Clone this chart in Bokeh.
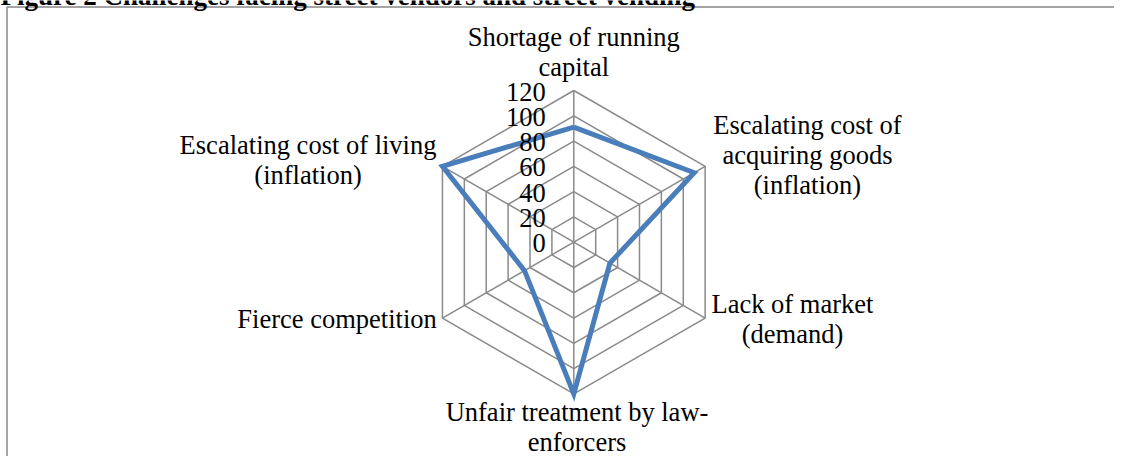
import numpy as np
from bokeh.plotting import figure
from bokeh.models import Range1d, ColumnDataSource
from bokeh.core.properties import value
from bokeh.embed import file_html
from bokeh.resources import INLINE

# ---- data ----
categories = [
    "Shortage of running\ncapital",
    "Escalating cost of\nacquiring goods\n(inflation)",
    "Lack of market\n(demand)",
    "Unfair treatment by law-\nenforcers",
    "Fierce competition",
    "Escalating cost of living\n(inflation)",
]
values = [91, 110, 33, 120, 45, 120]
ticks = [0, 20, 40, 60, 80, 100, 120]
title = "Figure 2 Challenges facing street vendors and street vending"

# ---- layout ----
W, H = 1114, 456
PX = 1.264             # pixels per value unit
CX, CY = 573.3, 241.7  # centre in canvas pixels
FONT = value("Liberation Serif")
FS = "26.5px"
GRID = "#8a8a8a"
BLUE = "#4a7ebb"

x0, x1 = -CX / PX, (W - CX) / PX
y0, y1 = -(H - CY) / PX, CY / PX

p = figure(width=W, height=H, output_backend="svg", toolbar_location=None,
           x_range=Range1d(x0, x1), y_range=Range1d(y0, y1),
           min_border=0, outline_line_color=None)
p.axis.visible = False
p.grid.visible = False
p.background_fill_color = "white"
p.border_fill_color = "white"

n = len(categories)
ang = np.deg2rad(90 - 60 * np.arange(n))
rmax = max(ticks)

# grid hexagons
for t in ticks[1:]:
    xs = list(t * np.cos(ang)) + [t * np.cos(ang[0])]
    ys = list(t * np.sin(ang)) + [t * np.sin(ang[0])]
    p.line(xs, ys, line_color=GRID, line_width=1.5)
# spokes
p.segment(x0=[0] * n, y0=[0] * n, x1=list(rmax * np.cos(ang)), y1=list(rmax * np.sin(ang)),
          line_color=GRID, line_width=1.5)

# series
vx = [v * np.cos(a) for v, a in zip(values, ang)]
vy = [v * np.sin(a) for v, a in zip(values, ang)]
p.line(vx + [vx[0]], vy + [vy[0]], line_color=BLUE, line_width=5, line_join="miter")

# tick labels
p.text(x=[0] * len(ticks), y=ticks, text=[str(t) for t in ticks],
       x_offset=-28, y_offset=1, text_align="right", text_baseline="middle",
       text_font=FONT, text_font_size=FS, text_color="black")

# category labels
offs = [(0, -38.5), (102.3, -11.6), (87.3, 1), (3.2, 33.5), (-105.4, 0.5), (-134.4, -5.9)]
lab = ColumnDataSource(dict(
    x=list(rmax * np.cos(ang)), y=list(rmax * np.sin(ang)), text=categories,
    xo=[o[0] for o in offs], yo=[o[1] for o in offs]))
p.text(x="x", y="y", text="text", x_offset="xo", y_offset="yo", source=lab,
       text_align="center", text_baseline="middle", text_line_height=1.0,
       text_font=FONT, text_font_size=FS, text_color="black")

# chart area border (left and top edges visible)
e = 6.5 / PX
p.line([x0 + e, x0 + e, x1], [y0, y1 - e, y1 - e], line_color="#878787", line_width=1.5)

# title (mostly above the visible area, as in the reference)
p.text(x=[x0], y=[y1], text=[title], y_offset=-5, text_align="left",
       text_baseline="alphabetic", text_font=FONT, text_font_style="bold",
       text_font_size="27px", text_color="black")

open("out.html", "w").write(file_html(p, INLINE))
